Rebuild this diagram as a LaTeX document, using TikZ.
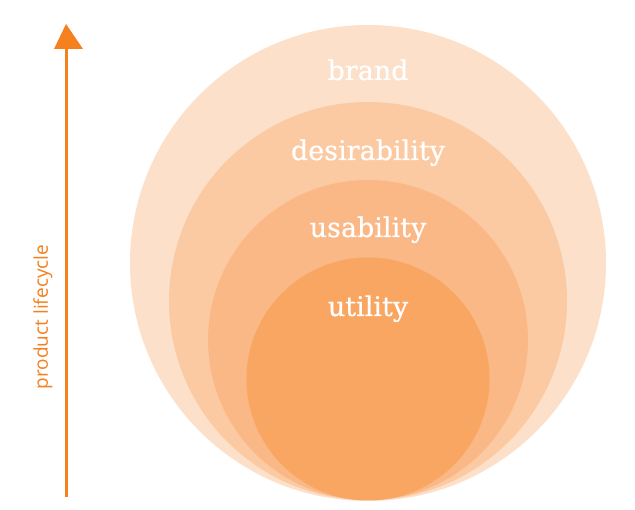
\documentclass[tikz,border=0pt]{standalone}
\usepackage{fontspec}
\newfontfamily\handfont{Open Sans}
\newfontfamily\labelfont[FakeBold=0.6]{DejaVu Serif}
\definecolor{arroworange}{HTML}{F5801F}
\definecolor{ringA}{HTML}{FDE0C9}
\definecolor{ringB}{HTML}{FCCAA2}
\definecolor{ringC}{HTML}{FAB886}
\definecolor{ringD}{HTML}{F9A663}
\begin{document}
\begin{tikzpicture}[x=1pt,y=-1pt,
  ring/.style={circle, inner sep=0pt, draw=none},
  lbl/.style={text=white, font=\labelfont\fontsize{27}{27}\selectfont, inner sep=0pt, anchor=base}]
\useasboundingbox (0,0) rectangle (635,510);
\fill[white] (0,0) rectangle (635,510);
% circles, all tangent at the bottom
\node[ring, fill=ringA, minimum size=476pt] (brandc) at (368,263) {};
\node[ring, fill=ringB, minimum size=398pt] (desc) at (368,301) {};
\node[ring, fill=ringC, minimum size=320pt] (usec) at (368,340) {};
\node[ring, fill=ringD, minimum size=243pt] (utilc) at (368,379) {};
% labels
\node[lbl] (brand) at (368,80) {brand};
\node[lbl] (desir) at (368,160) {desirability};
\node[lbl] (usab) at (368,237) {usability};
\node[lbl] (util) at (368,316) {utility};
% lifecycle arrow
\coordinate (abot) at (66,497);
\coordinate (atop) at (66,47);
\draw[arroworange, line width=3pt] (abot) -- (atop);
\fill[arroworange] (54,49) -- (66,24) -- (83,49) -- cycle;
\node[rotate=90, text=arroworange, font=\handfont\fontsize{19}{19}\selectfont, inner sep=0pt] (plc) at (43,317) {product lifecycle};
\end{tikzpicture}
\end{document}
